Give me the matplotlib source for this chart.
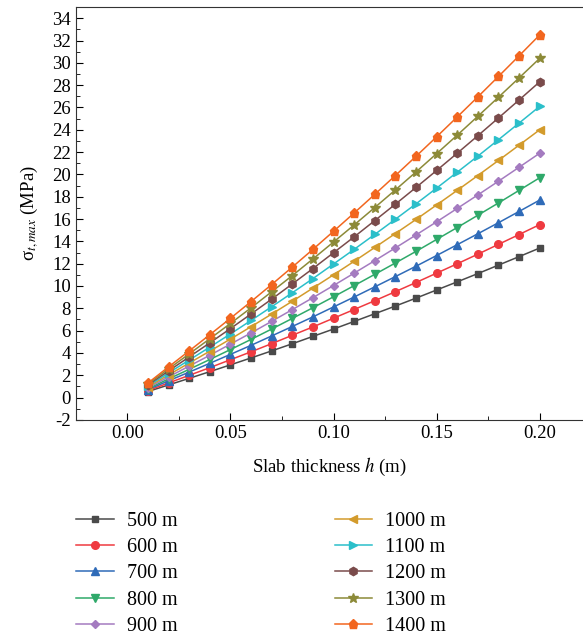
import matplotlib
matplotlib.use("Agg")
import matplotlib.pyplot as plt
from matplotlib.ticker import MultipleLocator

plt.rcParams['font.family'] = ['Liberation Serif', 'DejaVu Serif']
plt.rcParams['mathtext.fontset'] = 'stix'
plt.rcParams['axes.unicode_minus'] = False

# slab thickness h (m)
h = [0.01, 0.02, 0.03, 0.04, 0.05, 0.06, 0.07, 0.08, 0.09, 0.10,
     0.11, 0.12, 0.13, 0.14, 0.15, 0.16, 0.17, 0.18, 0.19, 0.20]

# max tensile stress (MPa) for each depth
s500 = [0.54, 1.13, 1.72, 2.32, 2.93, 3.55, 4.18, 4.82, 5.48, 6.14,
        6.82, 7.51, 8.20, 8.91, 9.64, 10.37, 11.11, 11.87, 12.63, 13.40]
s600 = [0.62, 1.31, 1.99, 2.68, 3.39, 4.10, 4.83, 5.58, 6.33, 7.11,
        7.89, 8.68, 9.49, 10.31, 11.15, 11.99, 12.85, 13.73, 14.61, 15.50]
s700 = [0.71, 1.50, 2.28, 3.07, 3.87, 4.68, 5.52, 6.37, 7.23, 8.12,
        9.01, 9.92, 10.84, 11.77, 12.73, 13.70, 14.68, 15.67, 16.68, 17.70]
s800 = [0.79, 1.67, 2.53, 3.41, 4.30, 5.21, 6.14, 7.09, 8.05, 9.03,
        10.03, 11.04, 12.06, 13.10, 14.17, 15.24, 16.34, 17.44, 18.57, 19.70]
s900 = [0.88, 1.85, 2.82, 3.79, 4.79, 5.79, 6.83, 7.88, 8.95, 10.04,
        11.15, 12.27, 13.41, 14.57, 15.75, 16.95, 18.16, 19.39, 20.64, 21.90]
s1000 = [0.96, 2.03, 3.09, 4.16, 5.24, 6.35, 7.48, 8.63, 9.81, 11.00,
         12.21, 13.45, 14.70, 15.96, 17.26, 18.57, 19.90, 21.25, 22.62, 24.00]
s1100 = [1.04, 2.21, 3.36, 4.52, 5.70, 6.91, 8.14, 9.39, 10.66, 11.97,
         13.28, 14.62, 15.98, 17.36, 18.77, 20.20, 21.64, 23.11, 24.60, 26.10]
s1200 = [1.13, 2.39, 3.64, 4.90, 6.18, 7.49, 8.82, 10.18, 11.56, 12.98,
         14.40, 15.86, 17.33, 18.83, 20.35, 21.90, 23.47, 25.06, 26.67, 28.30]
s1300 = [1.22, 2.57, 3.91, 5.27, 6.64, 8.04, 9.48, 10.93, 12.42, 13.94,
         15.47, 17.03, 18.61, 20.22, 21.86, 23.52, 25.21, 26.92, 28.65, 30.40]
s1400 = [1.30, 2.75, 4.18, 5.63, 7.10, 8.60, 10.13, 11.69, 13.28, 14.90,
         16.54, 18.21, 19.90, 21.62, 23.37, 25.15, 26.95, 28.78, 30.63, 32.50]

labels = ['500 m', '600 m', '700 m', '800 m', '900 m',
          '1000 m', '1100 m', '1200 m', '1300 m', '1400 m']
series = [s500, s600, s700, s800, s900, s1000, s1100, s1200, s1300, s1400]
colors = ['#4a4a4a', '#ef3a40', '#2f6bb8', '#2fa96a', '#a47bc0',
          '#d39b2c', '#2bbfca', '#7a4b4b', '#8c8a38', '#f2661f']
markers = ['s', 'o', '^', 'v', 'D', '<', '>', 'h', '*', 'p']
sizes = [4.5, 5.5, 6, 6, 4.5, 6, 6, 6, 7.5, 6.5]

fig = plt.figure(figsize=(5.83, 6.41), dpi=100)
ax = fig.add_axes([0.130, 0.345, 0.87, 0.644])

for y, lab, c, m, ms in zip(series, labels, colors, markers, sizes):
    ax.plot(h, y, color=c, marker=m, markersize=ms, linewidth=1.1, label=lab)

ax.set_xlim(-0.025, 0.221)
ax.set_ylim(-2, 35)
ax.xaxis.set_minor_locator(MultipleLocator(0.025))
ax.yaxis.set_major_locator(MultipleLocator(2))
ax.yaxis.set_minor_locator(MultipleLocator(1))
ax.set_xticks([0.0, 0.05, 0.10, 0.15, 0.20])
ax.set_xticklabels(['0.00', '0.05', '0.10', '0.15', '0.20'])
ax.tick_params(which='both', direction='in', labelsize=13.5)
ax.tick_params(which='major', length=5)
ax.tick_params(which='minor', length=3)
ax.spines['right'].set_visible(False)
for s in ['left', 'bottom', 'top']:
    ax.spines[s].set_color('#333333')

ax.set_xlabel('Slab thickness $h$ (m)', fontsize=13.5, labelpad=10)
ax.set_ylabel('σ$_{t,max}$ (MPa)', fontsize=13.5, labelpad=8)

fig.legend(loc='upper left', bbox_to_anchor=(0.100, 0.230), ncol=2,
           frameon=False, fontsize=14.5, handlelength=1.85, handletextpad=0.65,
           labelspacing=0.36, columnspacing=7.8)

fig.savefig('out.png', dpi=100)
